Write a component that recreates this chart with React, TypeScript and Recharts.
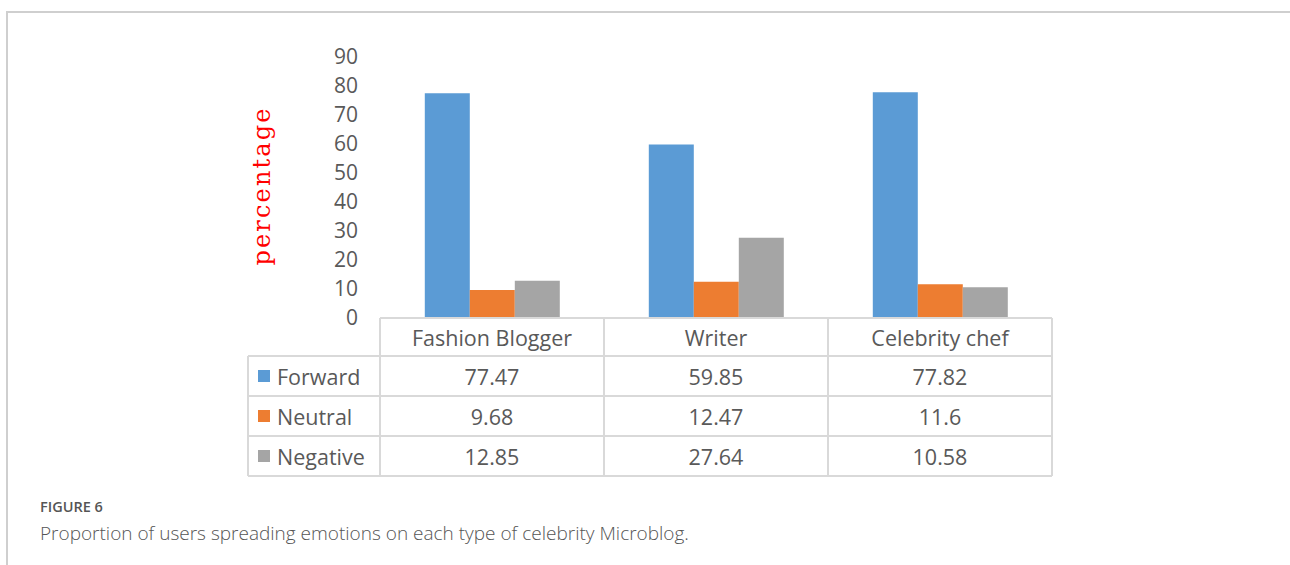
import React from "react";
import { BarChart, Bar, XAxis, YAxis } from "recharts";

const categories = ["Fashion Blogger", "Writer", "Celebrity chef"];
const forward = [77.47, 59.85, 77.82];
const neutral = [9.68, 12.47, 11.6];
const negative = [12.85, 27.64, 10.58];
const seriesNames = ["Forward", "Neutral", "Negative"];
const seriesKeys = ["forward", "neutral", "negative"];
const seriesColors = ["#5b9bd5", "#ed7d31", "#a5a5a5"];
const seriesValues = [forward, neutral, negative];
const yTicks = [0, 10, 20, 30, 40, 50, 60, 70, 80, 90];

const data = categories.map((c, i) => ({
  name: c,
  forward: forward[i],
  neutral: neutral[i],
  negative: negative[i],
}));

const W = 1290;
const H = 565;
const M = { top: 57, right: 238, bottom: 87, left: 280 };
const Y_AXIS_W = 100;
const PLOT_W = W - M.left - M.right - Y_AXIS_W;
const COL_W = PLOT_W / categories.length;
const LEFT_COL_W = 132;
const HEADER_H = 38;
const ROW_H = 40;
const LINE = "#d9d9d9";
const TXT = "#595959";
const FONT = "'Open Sans', sans-serif";
const TFS = 21.5;

function TableTick(props: any) {
  const { x, y, payload, index } = props;
  const x0 = x - COL_W / 2;
  const x1 = x + COL_W / 2;
  const bottom = y + HEADER_H + ROW_H * seriesNames.length;
  const els: any[] = [];
  els.push(<line key="ht" x1={x0} x2={x1} y1={y} y2={y} stroke={LINE} strokeWidth={2} />);
  els.push(<line key="vl" x1={x0} x2={x0} y1={y} y2={bottom} stroke={LINE} strokeWidth={2} />);
  els.push(<line key="vr" x1={x1} x2={x1} y1={y} y2={bottom} stroke={LINE} strokeWidth={2} />);
  els.push(
    <text key="h" x={x} y={y + HEADER_H / 2} textAnchor="middle" dominantBaseline="central"
      fontSize={TFS} fill={TXT} fontFamily={FONT}>{payload.value}</text>
  );
  for (let r = 0; r <= seriesNames.length; r++) {
    const yy = y + HEADER_H + r * ROW_H;
    els.push(<line key={"hr" + r} x1={x0} x2={x1} y1={yy} y2={yy} stroke={LINE} strokeWidth={2} />);
  }
  seriesNames.forEach((s, r) => {
    const cy = y + HEADER_H + r * ROW_H + ROW_H / 2;
    els.push(
      <text key={"v" + r} x={x} y={cy} textAnchor="middle" dominantBaseline="central"
        fontSize={TFS} fill={TXT} fontFamily={FONT}>{String(seriesValues[r][index])}</text>
    );
  });
  if (index === 0) {
    const lx0 = x0 - LEFT_COL_W;
    els.push(<line key="lv" x1={lx0} x2={lx0} y1={y + HEADER_H} y2={bottom} stroke={LINE} strokeWidth={2} />);
    for (let r = 0; r <= seriesNames.length; r++) {
      const yy = y + HEADER_H + r * ROW_H;
      els.push(<line key={"lr" + r} x1={lx0} x2={x0} y1={yy} y2={yy} stroke={LINE} strokeWidth={2} />);
    }
    seriesNames.forEach((s, r) => {
      const cy = y + HEADER_H + r * ROW_H + ROW_H / 2;
      els.push(<rect key={"lm" + r} x={lx0 + 10} y={cy - 6} width={12} height={12} fill={seriesColors[r]} />);
      els.push(
        <text key={"lt" + r} x={lx0 + 29} y={cy} dominantBaseline="central"
          fontSize={TFS} fill={TXT} fontFamily={FONT}>{s}</text>
      );
    });
  }
  return <g>{els}</g>;
}

function YLabel(props: any) {
  const cx = 262;
  const cy = 187;
  return (
    <text x={cx} y={cy} transform={`rotate(-90 ${cx} ${cy})`} textAnchor="middle"
      dominantBaseline="central" fill="#ff0000" fontSize={24}
      fontFamily="'DejaVu Serif', serif" textLength={157} lengthAdjust="spacing">percentage</text>
  );
}

export default function App() {
  return (
    <div style={{ position: "absolute", left: 0, top: 0, width: W, height: H, background: "#fff", overflow: "hidden" }}>
      <div style={{ position: "absolute", left: 6, top: 11, right: 0, bottom: 0,
        borderTop: "2px solid #cfcfcf", borderLeft: "2px solid #cfcfcf" }} />
      <div style={{ position: "absolute", left: 0, top: 0 }}>
        <BarChart width={W} height={H} data={data} margin={M} barGap={0} barCategoryGap="20%">
          <XAxis dataKey="name" axisLine={false} tickLine={false} tickSize={0} tickMargin={0}
            height={160} tick={<TableTick />} interval={0} />
          <YAxis width={Y_AXIS_W} domain={[0, 90]} ticks={yTicks} interval={0} axisLine={false} tickLine={false}
            tickMargin={16} tick={{ fontSize: 21, fill: TXT, fontFamily: FONT }} label={<YLabel />} />
          {seriesKeys.map((k, i) => (
            <Bar key={k} dataKey={k} name={seriesNames[i]} fill={seriesColors[i]} isAnimationActive={false} />
          ))}
        </BarChart>
      </div>
      <div style={{ position: "absolute", left: 40, top: 497, fontFamily: FONT, fontSize: 14.5,
        fontWeight: 600, color: "#555", lineHeight: "20px" }}>FIGURE 6</div>
      <div style={{ position: "absolute", left: 40, top: 521, fontFamily: FONT, fontSize: 19,
        fontWeight: 300, color: "#555", lineHeight: "24px" }}>Proportion of users spreading emotions on each type of celebrity Microblog.</div>
    </div>
  );
}
